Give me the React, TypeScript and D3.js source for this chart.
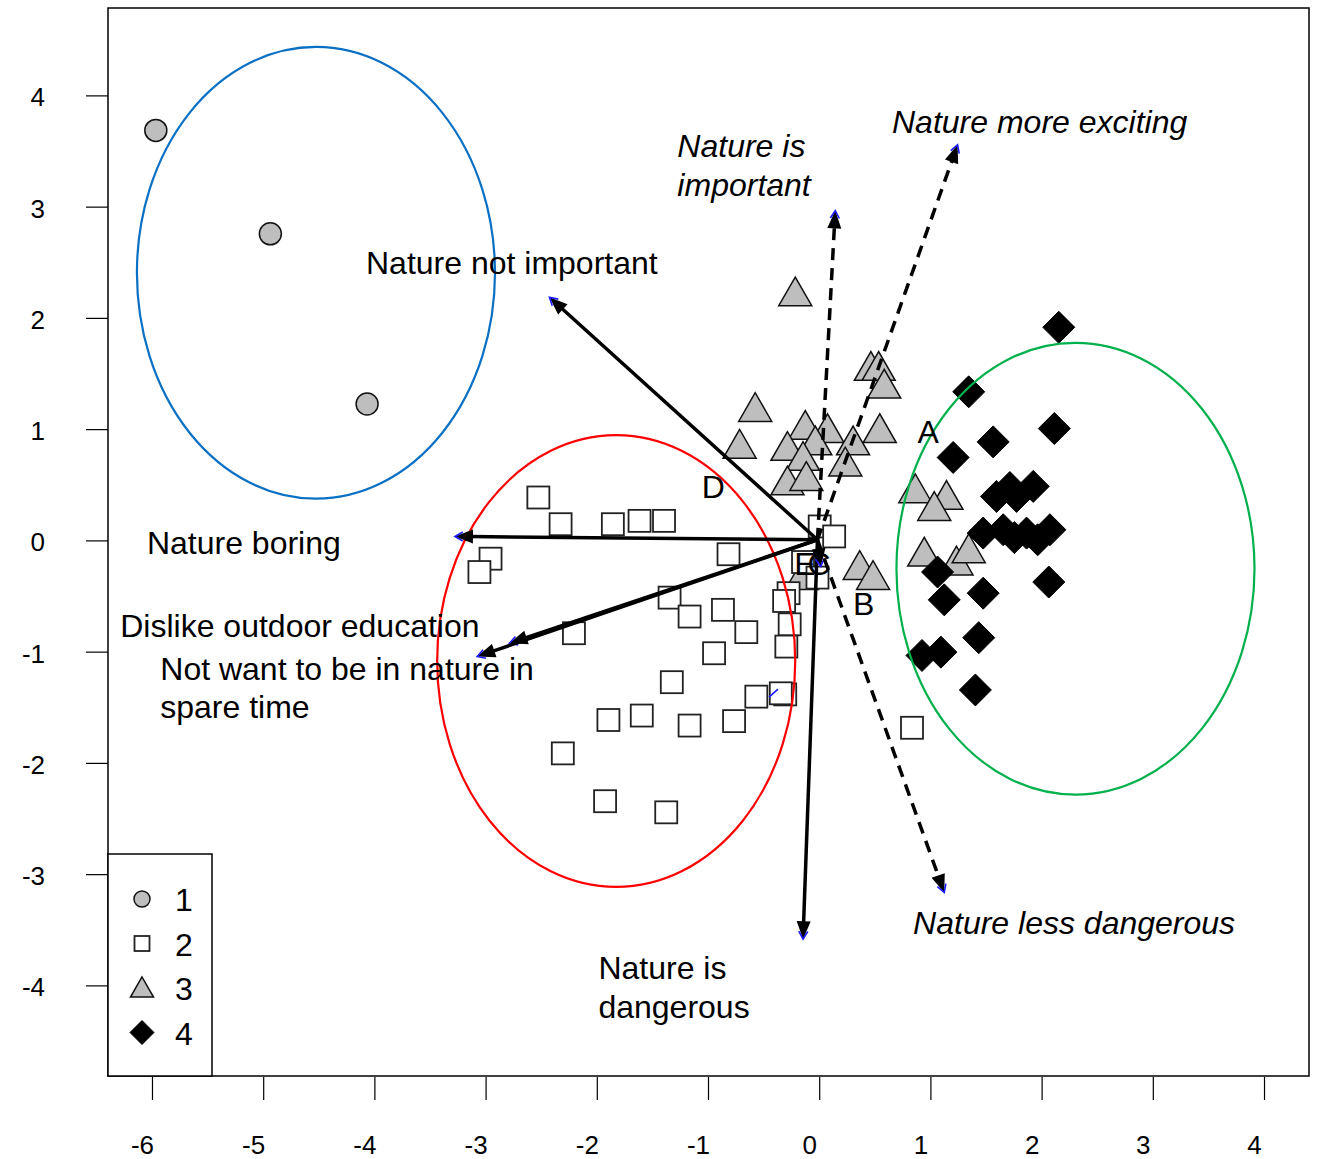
import * as d3 from 'd3';

// group 1 (circles)
const g1X = [-5.97, -4.94, -4.07];
const g1Y = [3.69, 2.76, 1.23];

// group 2 (open squares)
const g2X = [-2.53, -2.33, -1.86, -1.62, -1.40, -2.96, -3.06, -0.82, 0.0, 0.13, -0.15, -0.02, -0.28, -0.32, -1.35, -1.17,
  -0.87, -0.66, -0.27, -0.30, -0.95, -2.21, -1.33, -0.57, -0.31, -0.35, -1.90, -1.60, -1.17, -0.77, -2.31, -1.93, -1.38, 0.83];
const g2Y = [0.39, 0.15, 0.15, 0.18, 0.18, -0.16, -0.28, -0.12, 0.13, 0.04, -0.19, -0.33, -0.47, -0.54, -0.51, -0.68,
  -0.62, -0.82, -0.75, -0.95, -1.01, -0.83, -1.27, -1.40, -1.38, -1.37, -1.61, -1.57, -1.66, -1.62, -1.91, -2.34, -2.44, -1.68];

// group 3 (grey triangles)
const g3X = [-0.22, -0.58, -0.72, -0.13, 0.07, -0.29, -0.04, 0.30, 0.54, -0.15, 0.23, -0.29, -0.12, 0.46, 0.53, 0.58,
  0.86, 1.14, 1.03, 0.94, 1.23, 1.34, 0.36, 0.48, -0.16];
const g3Y = [2.23, 1.19, 0.86, 1.03, 1.0, 0.84, 0.89, 0.89, 1.0, 0.75, 0.70, 0.53, 0.57, 1.56, 1.56, 1.40,
  0.46, 0.40, 0.30, -0.11, -0.19, -0.08, -0.23, -0.32, -0.32];

// group 4 (black diamonds)
const g4X = [2.15, 1.34, 1.56, 2.11, 1.20, 1.59, 1.71, 1.77, 1.92, 1.47, 1.65, 1.75, 1.86, 1.96, 2.07, 1.06, 1.12, 1.47,
  2.06, 0.92, 1.09, 1.43, 1.40];
const g4Y = [1.92, 1.34, 0.89, 1.01, 0.75, 0.40, 0.48, 0.40, 0.49, 0.07, 0.10, 0.03, 0.07, 0.01, 0.10, -0.28, -0.53, -0.47,
  -0.37, -1.03, -1.00, -0.87, -1.34];

// ellipses: centre x, centre y, radius x, radius y
const ellCx = [-4.53, -1.83, 2.30];
const ellCy = [2.41, -1.08, -0.25];
const ellRx = [1.61, 1.61, 1.61];
const ellRy = [2.03, 2.03, 2.03];
const ellColors = ['#0a70c4', '#ff0000', '#00b04c'];

// arrows from the origin
const arrowOrigin = [-0.02, 0.01];
const arrowX = [-2.43, -3.28, -2.79, -3.08, -0.15, 0.01, 0.14, 1.24, 1.12];
const arrowY = [2.19, 0.04, -0.92, -1.04, -3.58, -0.23, 2.97, 3.56, -3.16];
const arrowDashed = [false, false, false, false, false, false, true, true, true];
const blueTickX = [-0.42];
const blueTickY = [-1.36];

// text annotations (left x, baseline y)
const labelText = ['Nature more exciting', 'Nature is', 'important', 'Nature not important', 'Nature boring',
  'Dislike outdoor education', 'Not want to be in nature in', 'spare time', 'Nature is', 'dangerous',
  'Nature less dangerous', 'A', 'B', 'D', 'E', 'C'];
const labelX = [0.65, -1.28, -1.28, -4.08, -6.05, -6.29, -5.93, -5.93, -1.99, -1.99, 0.84, 0.88, 0.30, -1.06, -0.23, -0.11];
const labelY = [3.67, 3.45, 3.10, 2.40, -0.12, -0.86, -1.25, -1.59, -3.94, -4.29, -3.53, 0.88, -0.67, 0.39, -0.31, -0.31];
const labelItalic = [true, true, true, false, false, false, false, false, false, false, true, false, false, false, false, false];

const xTicks = [-6, -5, -4, -3, -2, -1, 0, 1, 2, 3, 4];
const yTicks = [-4, -3, -2, -1, 0, 1, 2, 3, 4];
const legendLabels = ['1', '2', '3', '4'];

const W = 1319;
const H = 1159;
const left = 108;
const right = 1309;
const top = 8;
const bottom = 1076;
const font = '"Liberation Sans", Arial, Helvetica, sans-serif';
const grey = '#bebebe';

const x = d3.scaleLinear().domain([-6.4, 4.4]).range([left, right]);
const y = d3.scaleLinear().domain([4.79, -4.81]).range([top, bottom]);

function circle(cx: number, cy: number, r: number, key: string) {
  return <circle key={key} cx={cx} cy={cy} r={r} fill={grey} stroke="#111" strokeWidth={1.5} />;
}
function square(cx: number, cy: number, s: number, key: string) {
  return <rect key={key} x={cx - s / 2} y={cy - s / 2} width={s} height={s} fill="#fff" stroke="#222" strokeWidth={1.8} />;
}
function triangle(cx: number, cy: number, s: number, key: string) {
  const h = s * 0.87;
  const pts = `${cx},${cy - h * 0.55} ${cx - s / 2},${cy + h * 0.45} ${cx + s / 2},${cy + h * 0.45}`;
  return <polygon key={key} points={pts} fill={grey} stroke="#111" strokeWidth={1.5} />;
}
function diamond(cx: number, cy: number, r: number, key: string) {
  const pts = `${cx},${cy - r} ${cx + r},${cy} ${cx},${cy + r} ${cx - r},${cy}`;
  return <polygon key={key} points={pts} fill="#000" stroke="#000" strokeWidth={1} />;
}

function Arrow({ i }: { i: number }) {
  const x0 = x(arrowOrigin[0]);
  const y0 = y(arrowOrigin[1]);
  const x1 = x(arrowX[i]);
  const y1 = y(arrowY[i]);
  const len = Math.hypot(x1 - x0, y1 - y0);
  const ux = (x1 - x0) / len;
  const uy = (y1 - y0) / len;
  const hl = Math.min(18, len * 0.8);
  const hw = 7;
  const bx = x1 - ux * hl;
  const by = y1 - uy * hl;
  const px = -uy;
  const py = ux;
  const head = `${x1},${y1} ${bx + px * hw},${by + py * hw} ${bx - px * hw},${by - py * hw}`;
  const vl = 9;
  const ang = Math.PI / 6;
  const a = Math.atan2(uy, ux);
  const v1 = [x1 - vl * Math.cos(a - ang), y1 - vl * Math.sin(a - ang)];
  const v2 = [x1 - vl * Math.cos(a + ang), y1 - vl * Math.sin(a + ang)];
  return (
    <g>
      <line x1={x0} y1={y0} x2={bx + ux * 2} y2={by + uy * 2} stroke="#000" strokeWidth={3.5}
        strokeDasharray={arrowDashed[i] ? '12,8' : undefined} />
      <polygon points={head} fill="#000" />
      <polyline points={`${v1[0]},${v1[1]} ${x1},${y1} ${v2[0]},${v2[1]}`} fill="none" stroke="#1a1aff" strokeWidth={1.6} />
    </g>
  );
}

export default function App() {
  const legTop = 854;
  const legRight = 212;
  return (
    <svg width={W} height={H} style={{ position: 'absolute', left: 0, top: 0, background: '#fff' }} fontFamily={font}>
      <rect x={0} y={0} width={W} height={H} fill="#fff" />

      {/* points */}
      {g1X.map((v, i) => circle(x(v), y(g1Y[i]), 11, `c${i}`))}
      {g3X.map((v, i) => triangle(x(v), y(g3Y[i]), 33, `t${i}`))}
      {g4X.map((v, i) => diamond(x(v), y(g4Y[i]), 16, `d${i}`))}
      {g2X.map((v, i) => square(x(v), y(g2Y[i]), 22, `s${i}`))}

      {/* group ellipses */}
      {ellCx.map((v, i) => (
        <ellipse key={`e${i}`} cx={x(v)} cy={y(ellCy[i])} rx={x(ellRx[i]) - x(0)} ry={y(0) - y(ellRy[i])}
          fill="none" stroke={ellColors[i]} strokeWidth={2.2} />
      ))}

      {/* arrows */}
      {arrowX.map((_, i) => <Arrow key={`a${i}`} i={i} />)}
      {blueTickX.map((v, i) => (
        <polyline key={`b${i}`} points={`${x(v) - 4},${y(blueTickY[i]) + 5} ${x(v) + 5},${y(blueTickY[i]) - 3}`}
          fill="none" stroke="#1a1aff" strokeWidth={1.6} />
      ))}

      {/* labels */}
      {labelText.map((t, i) => (
        <text key={`l${i}`} x={x(labelX[i])} y={y(labelY[i])} fontSize={32}
          fontStyle={labelItalic[i] ? 'italic' : 'normal'} fill="#000">{t}</text>
      ))}

      {/* frame */}
      <rect x={left} y={top} width={right - left} height={bottom - top} fill="none" stroke="#000" strokeWidth={1.5} />

      {/* x axis */}
      {xTicks.map((t) => (
        <g key={`xt${t}`}>
          <line x1={x(t)} x2={x(t)} y1={bottom + 1} y2={bottom + 24} stroke="#000" strokeWidth={1.2} />
          <text x={x(t) - 10} y={bottom + 78} fontSize={26} textAnchor="middle">{t}</text>
        </g>
      ))}
      {/* y axis */}
      {yTicks.map((t) => (
        <g key={`yt${t}`}>
          <line x1={left - 22} x2={left} y1={y(t)} y2={y(t)} stroke="#000" strokeWidth={1.2} />
          <text x={45} y={y(t)} dy="0.4em" fontSize={26} textAnchor="end">{t}</text>
        </g>
      ))}

      {/* legend */}
      <rect x={left} y={legTop} width={legRight - left} height={bottom - legTop} fill="#fff" stroke="#000" strokeWidth={1.5} />
      {legendLabels.map((t, i) => {
        const cy = legTop + 45 + i * 44.5;
        const cx = 142;
        const sym = i === 0 ? circle(cx, cy, 8, 'lc')
          : i === 1 ? square(cx, cy, 15, 'ls')
            : i === 2 ? triangle(cx, cy, 23, 'lt')
              : diamond(cx, cy, 12, 'ld');
        return (
          <g key={`lg${t}`}>
            {sym}
            <text x={175} y={cy} dy="0.38em" fontSize={32}>{t}</text>
          </g>
        );
      })}
    </svg>
  );
}
